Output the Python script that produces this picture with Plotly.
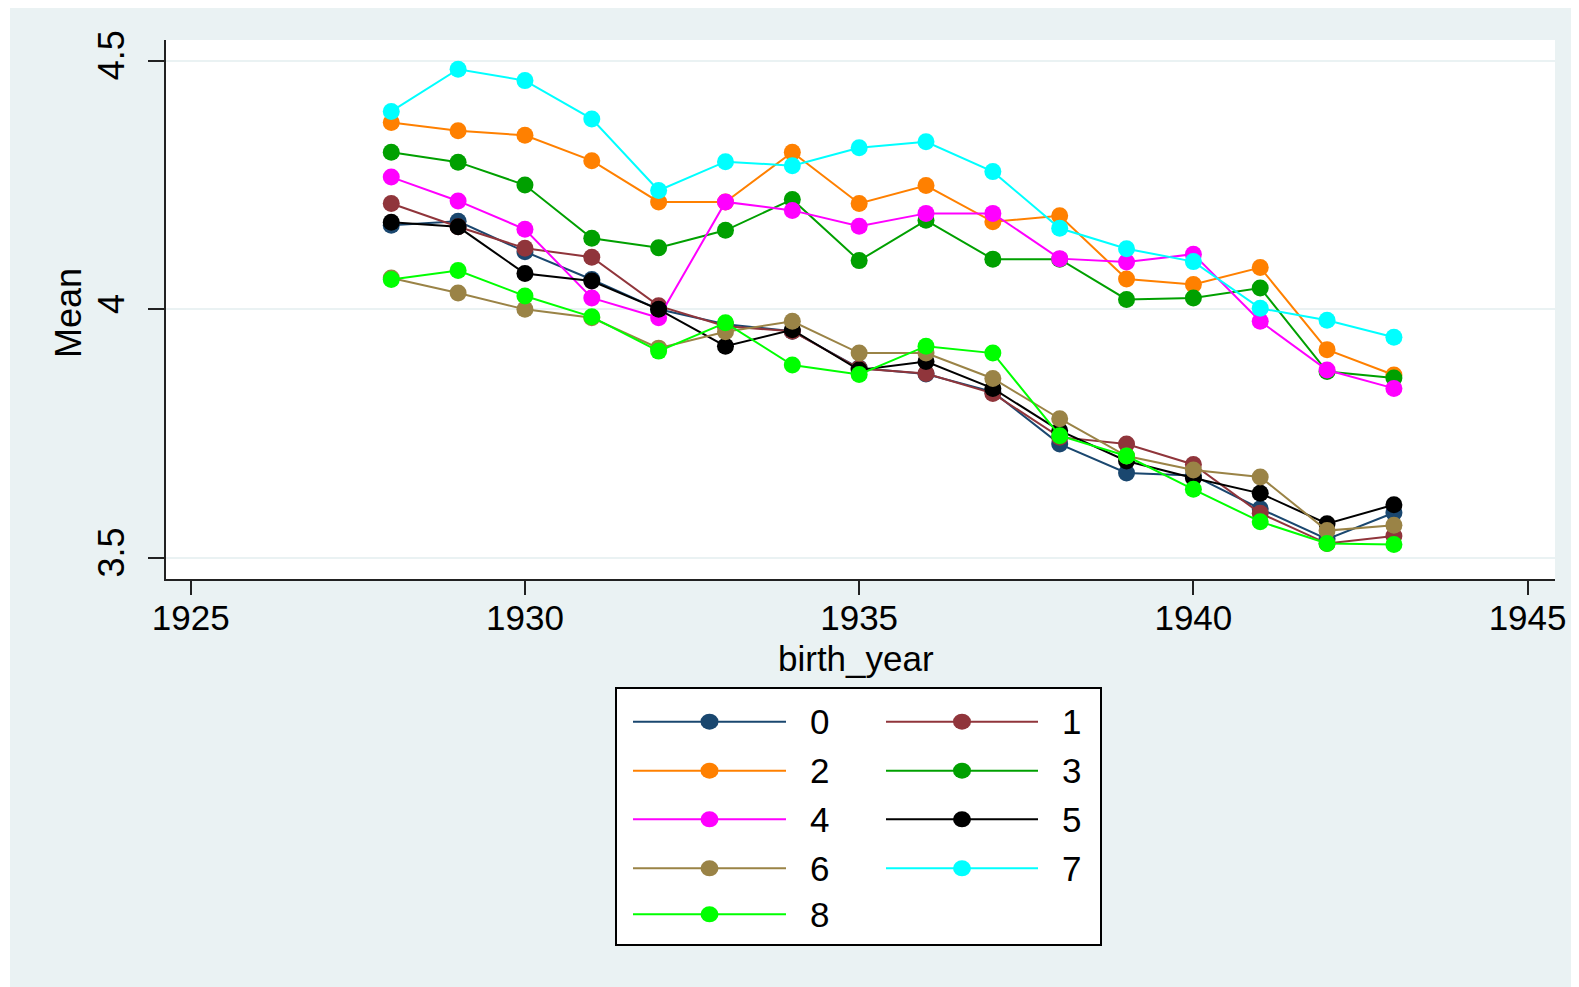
import plotly.graph_objects as go

years = list(range(1928, 1944))
series_names = ["0", "1", "2", "3", "4", "5", "6", "7", "8"]
colors = ["#1A476F", "#90353B", "#FF8000", "#00A000", "#FF00FF", "#000000", "#9A8346", "#00FFFF", "#00FF00"]

s0 = [4.169, 4.177, 4.116, 4.060, 4.000, 3.970, 3.956, 3.882, 3.870, 3.834, 3.729, 3.671, 3.666, 3.599, 3.538, 3.591]
s1 = [4.213, 4.166, 4.123, 4.105, 4.007, 3.966, 3.956, 3.881, 3.871, 3.831, 3.743, 3.729, 3.688, 3.590, 3.529, 3.544]
s2 = [4.376, 4.359, 4.350, 4.299, 4.216, 4.216, 4.316, 4.213, 4.249, 4.176, 4.188, 4.061, 4.050, 4.084, 3.919, 3.868]
s3 = [4.316, 4.296, 4.250, 4.143, 4.124, 4.159, 4.221, 4.098, 4.179, 4.101, 4.101, 4.020, 4.023, 4.043, 3.875, 3.862]
s4 = [4.266, 4.218, 4.161, 4.023, 3.983, 4.216, 4.199, 4.167, 4.193, 4.193, 4.102, 4.095, 4.111, 3.976, 3.878, 3.841]
s5 = [4.175, 4.166, 4.072, 4.057, 4.000, 3.926, 3.959, 3.878, 3.895, 3.841, 3.756, 3.695, 3.661, 3.630, 3.569, 3.607]
s6 = [4.063, 4.033, 4.000, 3.983, 3.922, 3.955, 3.976, 3.912, 3.912, 3.861, 3.780, 3.705, 3.677, 3.663, 3.555, 3.566]
s7 = [4.398, 4.483, 4.460, 4.383, 4.239, 4.297, 4.289, 4.325, 4.337, 4.277, 4.163, 4.122, 4.096, 4.002, 3.978, 3.944]
s8 = [4.060, 4.078, 4.027, 3.985, 3.916, 3.973, 3.888, 3.869, 3.926, 3.912, 3.746, 3.705, 3.638, 3.573, 3.529, 3.527]
all_series = [s0, s1, s2, s3, s4, s5, s6, s7, s8]

x_ticks = [1925, 1930, 1935, 1940, 1945]
y_ticks = [3.5, 4, 4.5]
y_tick_labels = ["3.5", "4", "4.5"]
x_title = "birth_year"
y_title = "Mean"

W, H = 1579, 987
OFF = 8  # page body margin
# plot area in screen pixels: x 166..1555, y 40..579
SX0, SX1, SY0, SY1 = 166, 1555, 40, 579
L = SX0 - OFF
T = SY0 - OFF
R = W - (SX1 - OFF)
B = H - (SY1 - OFF)
PW, PH = SX1 - SX0, SY1 - SY0
BG = "#EAF2F3"
FONT = "Liberation Sans, Arial, sans-serif"


def px(x):
    return (x - SX0) / PW


def py(y):
    return (SY1 - y) / PH


fig = go.Figure()
for name, col, vals in zip(series_names, colors, all_series):
    fig.add_trace(go.Scatter(
        x=years, y=vals, name=name, mode="lines+markers",
        line=dict(color=col, width=2),
        marker=dict(color=col, size=17, symbol="circle"),
        showlegend=False,
    ))

shapes = [
    dict(type="rect", xref="paper", yref="paper", x0=px(10), x1=px(W + 20), y0=py(6), y1=py(H + 20),
         fillcolor=BG, line=dict(width=0), layer="below"),
    dict(type="rect", xref="paper", yref="paper", x0=0, x1=1, y0=0, y1=1,
         fillcolor="white", line=dict(width=0), layer="below"),
]

# Stata-style legend box
box_x0, box_x1, box_y0, box_y1 = 616, 1101, 688, 945
shapes.append(dict(type="rect", xref="paper", yref="paper", x0=px(box_x0), x1=px(box_x1),
                   y0=py(box_y1), y1=py(box_y0), fillcolor="white",
                   line=dict(color="black", width=2), layer="above"))
row_y = [721.7, 770.7, 819.3, 868.3, 914.3]
col_line = [(633, 786), (886, 1038)]
col_text = [808, 1060]
annotations = []
for i, (name, col) in enumerate(zip(series_names, colors)):
    r, c = divmod(i, 2)
    yy = row_y[r]
    lx0, lx1 = col_line[c]
    shapes.append(dict(type="line", xref="paper", yref="paper", x0=px(lx0), x1=px(lx1),
                       y0=py(yy), y1=py(yy), line=dict(color=col, width=2), layer="above"))
    mx = (lx0 + lx1) / 2
    shapes.append(dict(type="circle", xref="paper", yref="paper", xsizemode="pixel", ysizemode="pixel",
                       xanchor=px(mx), yanchor=py(yy), x0=-9, x1=9, y0=-8, y1=8,
                       fillcolor=col, line=dict(color=col, width=0), layer="above"))
    annotations.append(dict(xref="paper", yref="paper", x=px(col_text[c]), y=py(yy), text=name,
                            showarrow=False, xanchor="left", yanchor="middle",
                            font=dict(size=35, color="black", family=FONT)))

# axis titles
annotations.append(dict(xref="paper", yref="paper", x=px(856), y=py(658), text=x_title,
                        showarrow=False, xanchor="center", yanchor="middle",
                        font=dict(size=35, color="black", family=FONT)))
annotations.append(dict(xref="paper", yref="paper", x=px(68), y=py(313), text=y_title,
                        showarrow=False, xanchor="center", yanchor="middle", textangle=-90,
                        font=dict(size=36, color="black", family=FONT)))

fig.update_layout(
    width=W, height=H,
    margin=dict(l=L, r=R, t=T, b=B, pad=0),
    paper_bgcolor="white",
    plot_bgcolor="rgba(0,0,0,0)",
    font=dict(family=FONT, color="black", size=36),
    showlegend=False,
    shapes=shapes,
    annotations=annotations,
    xaxis=dict(
        range=[1924.63, 1945.41], tickmode="array", tickvals=x_ticks,
        ticktext=[str(v) for v in x_ticks],
        showgrid=False, zeroline=False,
        showline=True, linecolor="#222222", linewidth=2,
        ticks="outside", ticklen=14, tickwidth=2, tickcolor="#222222",
        tickfont=dict(size=35), ticklabelstandoff=-7,
    ),
    yaxis=dict(
        range=[3.4577, 4.5417], tickmode="array", tickvals=y_ticks, ticktext=y_tick_labels,
        showgrid=True, gridcolor=BG, gridwidth=2, zeroline=False,
        showline=True, linecolor="#222222", linewidth=2,
        ticks="outside", ticklen=16, tickwidth=2, tickcolor="#222222",
        tickangle=-90, tickfont=dict(size=36), ticklabelstandoff=10,
    ),
)

fig.write_html("out.html")
